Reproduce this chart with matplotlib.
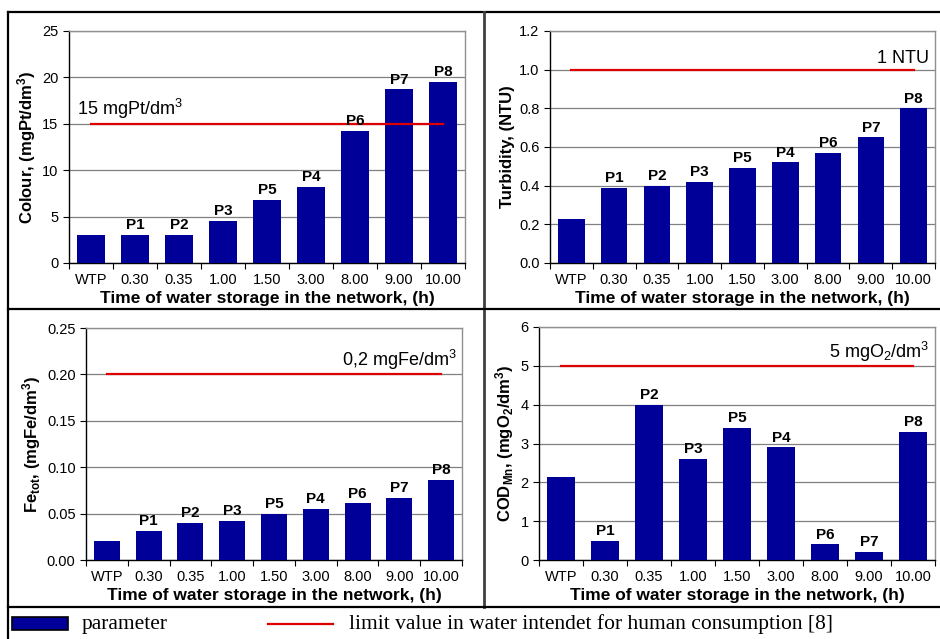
import matplotlib.pyplot as plt
from matplotlib.lines import Line2D
from matplotlib.patches import Rectangle

plt.rcParams["font.family"] = ["Liberation Sans", "DejaVu Sans"]
plt.rcParams["mathtext.default"] = "regular"

categories = ["WTP", "0.30", "0.35", "1.00", "1.50", "3.00", "8.00", "9.00", "10.00"]
points = ["", "P1", "P2", "P3", "P5", "P4", "P6", "P7", "P8"]

colour = [3.0, 3.0, 3.0, 4.5, 6.8, 8.2, 14.2, 18.7, 19.5]
turbidity = [0.23, 0.39, 0.40, 0.42, 0.49, 0.52, 0.57, 0.65, 0.80]
iron = [0.020, 0.031, 0.040, 0.042, 0.050, 0.055, 0.061, 0.067, 0.086]
cod = [2.15, 0.5, 4.0, 2.6, 3.4, 2.9, 0.4, 0.2, 3.3]

limits = [15, 1.0, 0.2, 5]

BAR = "#000099"
RED = "#dd0000"
W, H = 940, 639

fig = plt.figure(figsize=(9.4, 6.39), dpi=100)


def px(l, t, r, b):
    return [l / W, 1 - b / H, (r - l) / W, (b - t) / H]


panels = [
    dict(pos=px(69, 31, 465, 263), data=colour, lim=limits[0], ymax=25, step=5, fmt="{:.0f}",
         ylabel="Colour, (mgPt/dm$^3$)", ltxt="15 mgPt/dm$^3$", left=True),
    dict(pos=px(550, 31, 935, 263), data=turbidity, lim=limits[1], ymax=1.2, step=0.2, fmt="{:.1f}",
         ylabel="Turbidity, (NTU)", ltxt="1 NTU", left=False),
    dict(pos=px(86, 328, 462, 560), data=iron, lim=limits[2], ymax=0.25, step=0.05, fmt="{:.2f}",
         ylabel="Fe$_{tot}$, (mgFe/dm$^3$)", ltxt="0,2 mgFe/dm$^3$", left=False),
    dict(pos=px(539, 327, 935, 560), data=cod, lim=limits[3], ymax=6, step=1, fmt="{:.0f}",
         ylabel="COD$_{Mn}$, (mgO$_2$/dm$^3$)", ltxt="5 mgO$_2$/dm$^3$", left=False),
]

x = list(range(len(categories)))
for p in panels:
    ax = fig.add_axes(p["pos"])
    ax.bar(x, p["data"], width=0.62, color=BAR, zorder=3)
    ax.plot([x[0], x[-1]], [p["lim"]] * 2, color=RED, lw=1.6, zorder=4)
    ax.set_xlim(-0.5, len(categories) - 0.5)
    ax.set_ylim(0, p["ymax"])
    n = int(round(p["ymax"] / p["step"]))
    yt = [i * p["step"] for i in range(n + 1)]
    ax.set_yticks(yt)
    ax.set_yticklabels([p["fmt"].format(v) for v in yt])
    ax.yaxis.grid(True, color="#808080", lw=0.9, zorder=0)
    ax.set_axisbelow(True)
    # ticks at category boundaries, labels centred under bars
    ax.set_xticks([i - 0.5 for i in range(len(categories) + 1)])
    ax.set_xticklabels([])
    ax.set_xticks(x, minor=True)
    ax.set_xticklabels(categories, minor=True)
    ax.tick_params(axis="x", which="minor", length=0, labelsize=10.5, pad=7)
    ax.tick_params(axis="x", which="major", length=4, direction="out")
    ax.tick_params(axis="y", length=4.5, direction="out", labelsize=10.5, pad=3)
    ax.spines["left"].set_color("black")
    ax.spines["bottom"].set_color("black")
    ax.spines["top"].set_color("#909090")
    ax.spines["right"].set_color("#909090")
    for s in ax.spines.values():
        s.set_linewidth(1.0)
    ax.set_xlabel("Time of water storage in the network, (h)", fontsize=12.5, fontweight="bold", labelpad=3)
    ax.set_ylabel(p["ylabel"], fontsize=12, fontweight="bold", labelpad=3)
    off = p["ymax"] * 0.012
    for xi, v, lab in zip(x, p["data"], points):
        if lab:
            ax.text(xi, v + off, lab, ha="center", va="bottom", fontsize=11, fontweight="bold", zorder=5)
    if p["left"]:
        ax.text(0.02, p["lim"] + p["ymax"] * 0.01, p["ltxt"], transform=ax.get_yaxis_transform(),
                ha="left", va="bottom", fontsize=13)
    else:
        ax.text(0.985, p["lim"] + p["ymax"] * 0.01, p["ltxt"], transform=ax.get_yaxis_transform(),
                ha="right", va="bottom", fontsize=13)

# table-like frame around the panels
def fline(x0, y0, x1, y1, lw=1.6, color="black"):
    fig.add_artist(Line2D([x0 / W, x1 / W], [1 - y0 / H, 1 - y1 / H], color=color, lw=lw))

fline(8, 12, 940, 12)
fline(8, 12, 8, 639)
fline(484, 12, 484, 607, lw=2.0, color="#404040")
fline(8, 309, 940, 309)
fline(8, 607, 940, 607)

# legend row
fig.add_artist(Rectangle((12 / W, 1 - 630 / H), 56 / W, 13 / H, facecolor=BAR,
                         edgecolor="black", lw=1.2, transform=fig.transFigure))
fig.text(82 / W, 1 - 624 / H, "parameter", family="Liberation Serif", fontsize=15.5, va="center")
fline(268, 624, 333, 624, lw=1.6, color=RED)
fig.text(349 / W, 1 - 624 / H, "limit value in water intendet for human consumption [8]",
         family="Liberation Serif", fontsize=15.5, va="center")

fig.savefig("out.png", dpi=100)
